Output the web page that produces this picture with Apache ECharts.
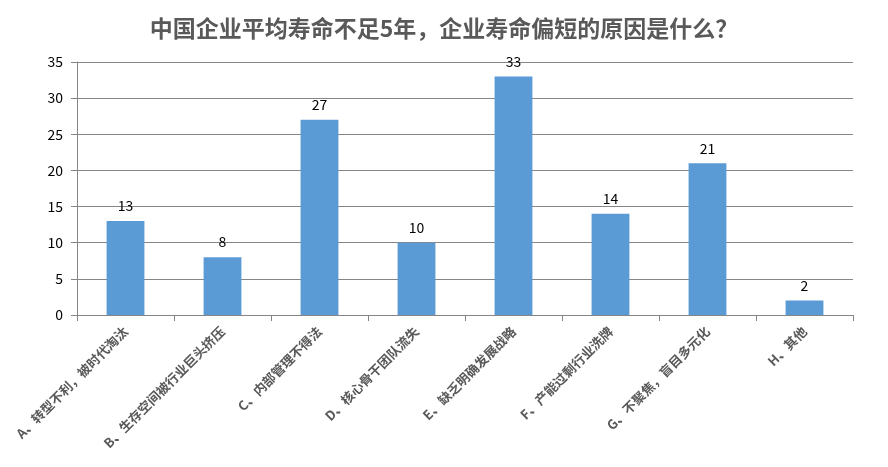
<!DOCTYPE html>
<html>
<head>
<meta charset="utf-8">
<script src="https://cdn.jsdelivr.net/npm/echarts@6/dist/echarts.min.js"></script>
<style>
  html, body { margin: 0; padding: 0; background: #fff; }
  #main { width: 888px; height: 467px; }
</style>
</head>
<body>
<div id="main"></div>
<script>
var categories = [
  'A、转型不利，被时代淘汰',
  'B、生存空间被行业巨头挤压',
  'C、内部管理不得法',
  'D、核心骨干团队流失',
  'E、缺乏明确发展战略',
  'F、产能过剩行业洗牌',
  'G、不聚焦，盲目多元化',
  'H、其他'
];
var values = [13, 8, 27, 10, 33, 14, 21, 2];
var yTicks = [0, 5, 10, 15, 20, 25, 30, 35];

var chart = echarts.init(document.getElementById('main'));
var font = '"Microsoft YaHei", "Noto Sans CJK SC", sans-serif';
var option = {
  animation: false,
  title: {
    text: '中国企业平均寿命不足5年，企业寿命偏短的原因是什么？',
    left: 'center',
    top: 12,
    textStyle: { color: '#595959', fontSize: 23, fontWeight: 'bold', fontFamily: font }
  },
  grid: { left: 77, right: 35, top: 62, bottom: 152 },
  xAxis: {
    type: 'category',
    data: categories,
    axisLine: { lineStyle: { color: '#868686' } },
    axisTick: { show: true, length: 6, lineStyle: { color: '#868686' } },
    axisLabel: {
      interval: 0,
      rotate: 45,
      margin: 14,
      color: '#595959',
      fontSize: 13,
      fontWeight: 'bold',
      fontFamily: font
    }
  },
  yAxis: {
    type: 'value',
    min: yTicks[0],
    max: yTicks[yTicks.length - 1],
    interval: 5,
    axisLine: { show: true, lineStyle: { color: '#868686' } },
    axisTick: { show: true, length: 6, lineStyle: { color: '#868686' } },
    axisLabel: { color: '#000', fontSize: 14, margin: 14, fontFamily: font },
    splitLine: { lineStyle: { color: '#868686', width: 1 } }
  },
  series: [{
    type: 'bar',
    data: values,
    barWidth: '39%',
    itemStyle: { color: '#5b9bd5' },
    label: {
      show: true,
      position: 'top',
      distance: 8,
      color: '#000',
      fontSize: 14,
      fontFamily: font
    }
  }]
};
chart.setOption(option);
</script>
</body>
</html>
